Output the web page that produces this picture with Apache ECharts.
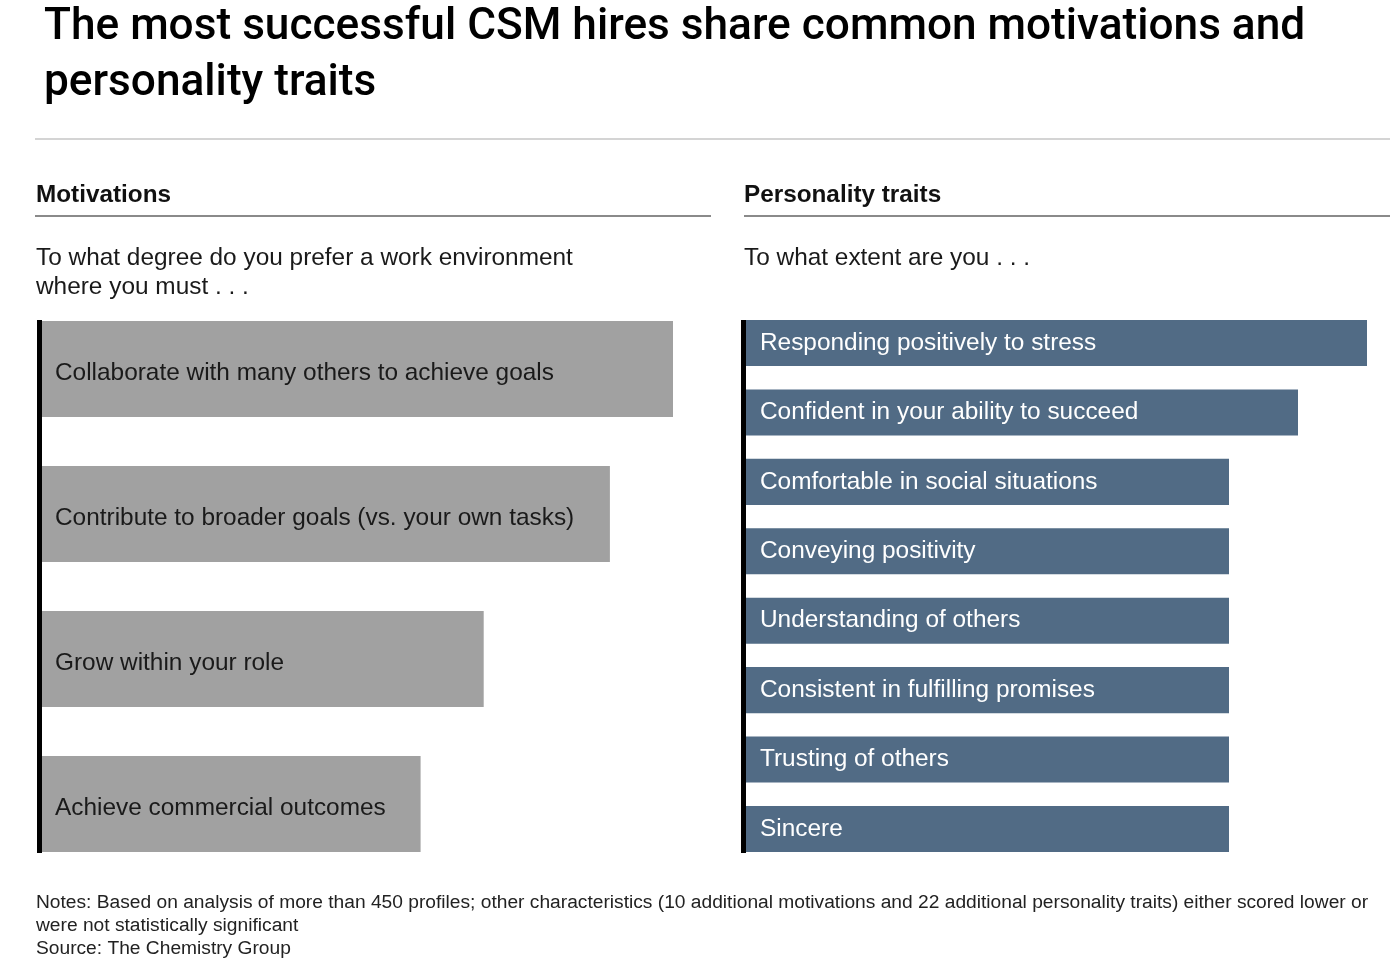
<!DOCTYPE html>
<html>
<head>
<meta charset="utf-8">
<script src="https://cdn.jsdelivr.net/npm/echarts@6/dist/echarts.min.js"></script>
<style>html,body{margin:0;padding:0;background:#fff}#c{width:1390px;height:963px}</style>
</head>
<body>
<div id="c"></div>
<script>
// Data
const motivationCategories = [
  'Collaborate with many others to achieve goals',
  'Contribute to broader goals (vs. your own tasks)',
  'Grow within your role',
  'Achieve commercial outcomes'
];
const motivationValues = [10, 9, 7, 6];

const traitCategories = [
  'Responding positively to stress',
  'Confident in your ability to succeed',
  'Comfortable in social situations',
  'Conveying positivity',
  'Understanding of others',
  'Consistent in fulfilling promises',
  'Trusting of others',
  'Sincere'
];
const traitValues = [9, 8, 7, 7, 7, 7, 7, 7];

const titleLines = ['The most successful CSM hires share common motivations and', 'personality traits'];
const notesLines = [
  'Notes: Based on analysis of more than 450 profiles; other characteristics (10 additional motivations and 22 additional personality traits) either scored lower or',
  'were not statistically significant',
  'Source: The Chemistry Group'
];

const chart = echarts.init(document.getElementById('c'));
const sans = '"Liberation Sans", Arial, sans-serif';

function line(x1, y1, x2, y2, color, w) {
  return { type: 'line', shape: { x1, y1, x2, y2 }, style: { stroke: color, lineWidth: w } };
}
function txt(x, y, text, font, color) {
  return { type: 'text', x, y, style: { text, font, fill: color, textVerticalAlign: 'middle' } };
}

const graphics = [
  txt(44, 28, titleLines[0], '500 44.2px Roboto, sans-serif', '#000'),
  txt(44, 84, titleLines[1], '500 44.2px Roboto, sans-serif', '#000'),
  line(35, 139, 1390, 139, '#d4d4d4', 2),
  txt(36, 195, 'Motivations', 'bold 24.3px ' + sans, '#111'),
  txt(744, 195, 'Personality traits', 'bold 24.3px ' + sans, '#111'),
  line(35, 216, 711, 216, '#8a8a8a', 2),
  line(744, 216, 1390, 216, '#8a8a8a', 2),
  txt(36, 258, 'To what degree do you prefer a work environment', '24.4px ' + sans, '#1a1a1a'),
  txt(36, 287, 'where you must . . .', '24.4px ' + sans, '#1a1a1a'),
  txt(744, 258, 'To what extent are you . . .', '24.4px ' + sans, '#1a1a1a'),
  { type: 'rect', shape: { x: 37, y: 320, width: 5, height: 533 }, style: { fill: '#000' } },
  { type: 'rect', shape: { x: 741, y: 320, width: 5, height: 533 }, style: { fill: '#000' } }
];
notesLines.forEach((t, i) => {
  graphics.push(txt(36, 903 + i * 23, t, '19.2px ' + sans, '#222'));
});

chart.setOption({
  animation: false,
  backgroundColor: '#fff',
  grid: [
    { left: 42, top: 296.5, width: 631, height: 580 },
    { left: 746, top: 308.3, width: 621, height: 555.4 }
  ],
  xAxis: [
    { gridIndex: 0, type: 'value', min: 0, max: 10, show: false },
    { gridIndex: 1, type: 'value', min: 0, max: 9, show: false }
  ],
  yAxis: [
    { gridIndex: 0, type: 'category', data: motivationCategories, inverse: true, show: false },
    { gridIndex: 1, type: 'category', data: traitCategories, inverse: true, show: false }
  ],
  series: [
    {
      type: 'bar', xAxisIndex: 0, yAxisIndex: 0, data: motivationValues,
      barCategoryGap: '33.8%', itemStyle: { color: '#a1a1a1' },
      label: { show: true, position: 'insideLeft', distance: 13, formatter: p => p.name, color: '#1a1a1a', fontSize: 24.4, fontFamily: sans, offset: [0, 4] }
    },
    {
      type: 'bar', xAxisIndex: 1, yAxisIndex: 1, data: traitValues,
      barCategoryGap: '33.7%', itemStyle: { color: '#516b85' },
      label: { show: true, position: 'insideLeft', distance: 14, formatter: p => p.name, color: '#fff', fontSize: 24.4, fontFamily: sans, offset: [0, 0] }
    }
  ],
  graphic: graphics
});
</script>
</body>
</html>
